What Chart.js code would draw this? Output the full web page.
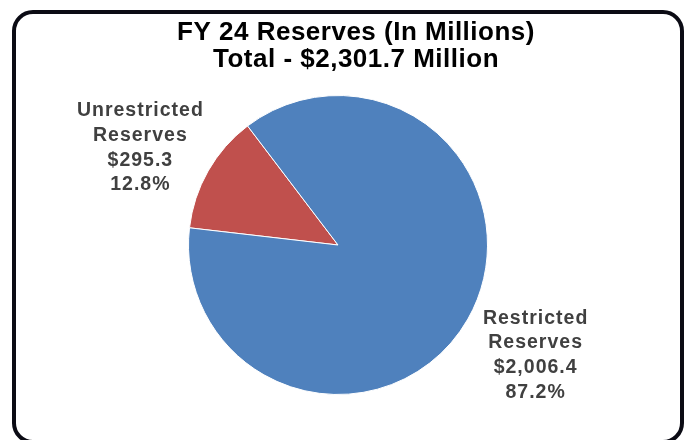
<!DOCTYPE html>
<html>
<head>
  <meta charset="UTF-8">
  <title>FY 24 Reserves</title>
  <script src="https://cdn.jsdelivr.net/npm/chart.js@4"></script>
  <style>
    body {
      margin: 0;
      background: #fff;
    }
    #wrap {
      position: relative;
      width: 689px;
      height: 440px;
      overflow: hidden;
    }
    /* rounded frame, bottom edge runs just past the page */
    #frame {
      position: absolute;
      left: 12px;
      top: 10px;
      width: 672px;
      height: 434px;
      box-sizing: border-box;
      border: 4px solid #0b0b14;
      border-radius: 21px;
    }
    canvas {
      position: absolute;
      left: 0;
      top: 0;
    }
  </style>
</head>
<body>
  <div id="wrap">
    <div id="frame"></div>
    <canvas id="reservesChart" width="689" height="440"></canvas>
  </div>

  <script>
  // Reserve figures, in millions
  const sliceNames = [['Unrestricted', 'Reserves'], ['Restricted', 'Reserves']];
  const sliceValues = [295.3, 2006.4];
  const sliceColors = ['#C0504D', '#4F81BD'];
  const fiscalYear = 'FY 24';

  const total = sliceValues.reduce((a, b) => a + b, 0);

  function money(v) {
    return '$' + v.toLocaleString('en-US', { minimumFractionDigits: 1, maximumFractionDigits: 1 });
  }

  const titleLines = [
    fiscalYear + ' Reserves (In Millions)',
    'Total - ' + money(total) + ' Million'
  ];

  // Title and the outside slice labels
  const reserveText = {
    id: 'reserveText',
    afterDraw(chart) {
      const ctx = chart.ctx;
      ctx.save();
      ctx.textAlign = 'center';
      ctx.textBaseline = 'alphabetic';

      ctx.fillStyle = '#000';
      ctx.font = 'bold 26px "Liberation Sans", Arial, sans-serif';
      ctx.letterSpacing = '0.5px';
      titleLines.forEach((t, i) => ctx.fillText(t, 356, 40 + i * 27));

      ctx.fillStyle = '#404040';
      ctx.font = 'bold 19.5px "Liberation Sans", Arial, sans-serif';
      ctx.letterSpacing = '1px';
      const lineH = 24.7;
      const meta = chart.getDatasetMeta(0);
      meta.data.forEach((arc, i) => {
        const p = arc.getProps(['x', 'y', 'startAngle', 'endAngle', 'outerRadius'], true);
        const mid = (p.startAngle + p.endAngle) / 2;
        const pct = (sliceValues[i] / total * 100).toFixed(1) + '%';
        const lines = [...sliceNames[i], money(sliceValues[i]), pct];
        // label block sits on a ring outside the pie, a bit wider than tall
        const cx = p.x + Math.cos(mid) * (p.outerRadius + 78);
        const cy = p.y + 5 + Math.sin(mid) * (p.outerRadius + 60);
        lines.forEach((l, j) => {
          ctx.fillText(l, cx, cy + (j - (lines.length - 1) / 2) * lineH + 7);
        });
      });
      ctx.restore();
    }
  };

  new Chart(document.getElementById('reservesChart'), {
    type: 'pie',
    data: {
      labels: sliceNames.map(n => n.join(' ')),
      datasets: [{
        data: sliceValues,
        backgroundColor: sliceColors,
        borderColor: '#ffffff',
        borderWidth: 1,
        hoverOffset: 0
      }]
    },
    options: {
      responsive: false,
      animation: false,
      events: [],
      rotation: -83.4,
      layout: {
        padding: { left: 188, right: 201, top: 95, bottom: 45 }
      },
      plugins: {
        legend: { display: false },
        title: { display: false },
        tooltip: { enabled: false }
      }
    },
    plugins: [reserveText]
  });
</script>
</body>
</html>
